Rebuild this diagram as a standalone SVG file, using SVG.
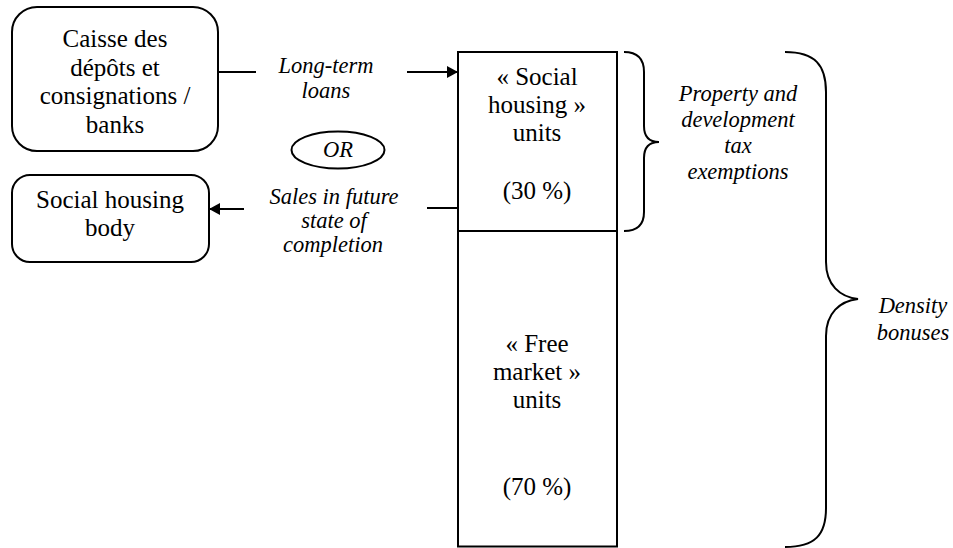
<svg xmlns="http://www.w3.org/2000/svg" width="953" height="548" viewBox="0 0 953 548">
<style>
.box{fill:#fff;stroke:#000;stroke-width:2}
.ln{fill:none;stroke:#000;stroke-width:2}
text{font-family:'Liberation Serif','DejaVu Serif',serif;fill:#000;text-anchor:middle}
.t{font-size:25px}
.i{font-size:22.5px;font-style:italic}
</style>
<defs>
<marker id="ah" markerWidth="11" markerHeight="12" refX="11" refY="6" orient="auto" markerUnits="userSpaceOnUse">
<path d="M0,0 L11,6 L0,12 Z" fill="#000"/>
</marker>
</defs>
<rect width="953" height="548" fill="#fff"/>
<g id="connectors">
<line class="ln" x1="218" y1="72" x2="256" y2="72"/>
<line class="ln" x1="407" y1="72" x2="458" y2="72" marker-end="url(#ah)"/>
<line class="ln" x1="427" y1="208" x2="458" y2="208"/>
<line class="ln" x1="244" y1="209" x2="209" y2="209" marker-end="url(#ah)"/>
<text class="i" x="326" y="73">Long-term</text>
<text class="i" x="326" y="98">loans</text>
<text class="i" x="334" y="204">Sales in future</text>
<text class="i" x="334" y="228">state of</text>
<text class="i" x="333" y="252">completion</text>
</g>
<g id="caisse">
<rect class="box" x="12" y="7" width="206" height="144" rx="25" ry="25"/>
<text class="t" x="115" y="47">Caisse des</text>
<text class="t" x="115" y="76">dépôts et</text>
<text class="t" x="115" y="104">consignations /</text>
<text class="t" x="115" y="133">banks</text>
</g>
<g id="social-body">
<rect class="box" x="12" y="175" width="197" height="87" rx="18" ry="18"/>
<text class="t" x="110" y="208">Social housing</text>
<text class="t" x="110" y="236">body</text>
</g>
<g id="or">
<ellipse class="box" cx="338" cy="150" rx="46.5" ry="18.5"/>
<text class="i" x="338" y="157">OR</text>
</g>
<g id="social-units">
<rect class="box" x="458" y="52" width="159" height="179"/>
<text class="t" x="537" y="85">« Social</text>
<text class="t" x="537" y="113">housing »</text>
<text class="t" x="537" y="141">units</text>
<text class="t" x="537" y="199">(30 %)</text>
</g>
<g id="free-units">
<rect class="box" x="458" y="231" width="159" height="315.5"/>
<text class="t" x="537" y="352">« Free</text>
<text class="t" x="537" y="380">market »</text>
<text class="t" x="537" y="408">units</text>
<text class="t" x="537" y="495">(70 %)</text>
</g>
<g id="tax-brace">
<path class="ln" d="M624,52 Q644,52 644,72 L644,126 Q644,142 659,142 Q644,142 644,158 L644,212 Q644,231 624,231"/>
<text class="i" x="738" y="101">Property and</text>
<text class="i" x="738" y="127">development</text>
<text class="i" x="738" y="153">tax</text>
<text class="i" x="738" y="179">exemptions</text>
</g>
<g id="density-brace">
<path class="ln" d="M785,52 C815,52 826,65 826,92 L826,262 C826,285 840,297 858,299 C840,301 826,313 826,336 L826,508 C826,535 815,547 785,547"/>
<text class="i" x="913" y="313">Density</text>
<text class="i" x="913" y="340">bonuses</text>
</g>
</svg>
